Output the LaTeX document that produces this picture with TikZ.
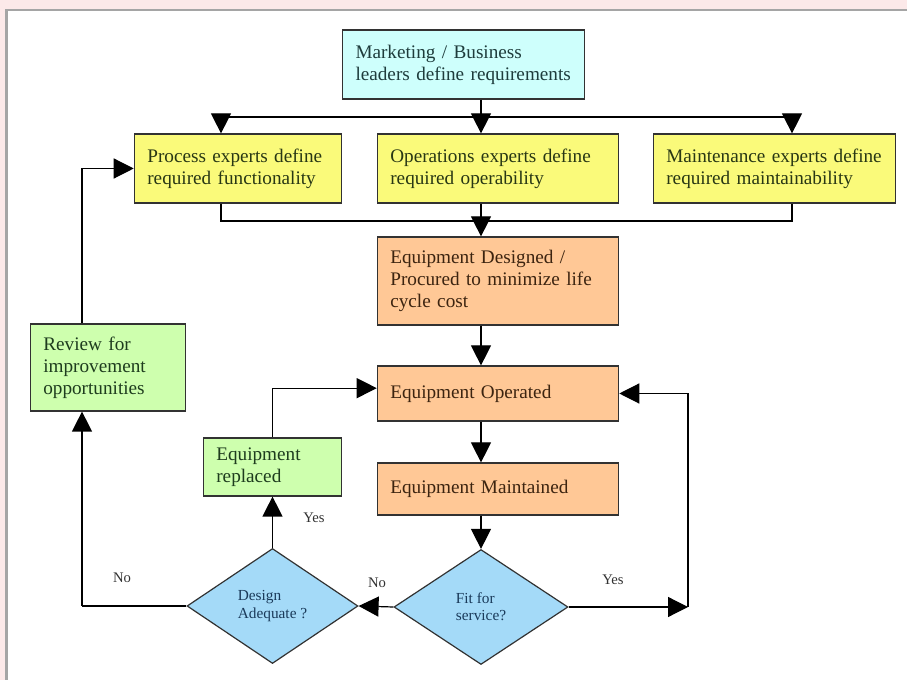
\documentclass[tikz,border=0pt]{standalone}
\usepackage{fontspec}
\setmainfont{Liberation Serif}
\usetikzlibrary{arrows.meta,shapes.geometric}

\definecolor{pinkbg}{RGB}{252,233,233}
\definecolor{framegray}{RGB}{165,165,165}
\definecolor{boxline}{RGB}{50,50,50}
\definecolor{cyanfill}{RGB}{206,255,252}
\definecolor{cyantext}{RGB}{30,60,60}
\definecolor{yellowfill}{RGB}{250,250,122}
\definecolor{yellowtext}{RGB}{40,55,20}
\definecolor{orangefill}{RGB}{255,200,150}
\definecolor{orangetext}{RGB}{60,36,16}
\definecolor{greenfill}{RGB}{206,255,174}
\definecolor{greentext}{RGB}{30,60,30}
\definecolor{diafill}{RGB}{164,218,248}
\definecolor{diatext}{RGB}{26,58,90}
\definecolor{lbltext}{RGB}{50,50,50}

\tikzset{every picture/.style={line width=0.9pt}}
\tikzset{
  box/.style={draw=boxline, align=left, inner xsep=9.75pt, inner ysep=0pt, font=\fontsize{14.4}{16.5}\selectfont},
  decision/.style={diamond, draw=boxline, fill=diafill, text=diatext, align=left, inner sep=0pt, font=\fontsize{11.5}{13}\selectfont},
  arr/.style={-{Triangle[length=15pt,width=15pt]}},
  lbl/.style={text=lbltext, inner sep=0pt, font=\fontsize{11}{13}\selectfont}
}

\begin{document}
\begin{tikzpicture}[x=0.75pt,y=0.75pt,yscale=-1,xscale=1]
\useasboundingbox (0,0) rectangle (907,680);

%Shape: Background
\fill[pinkbg] (0,0) rectangle (907,680);
\fill[white] (8,11) rectangle (907,680);
\draw[framegray, line width=2.2pt] (6.5,680) -- (6.5,10) -- (907,10);

%Shape: Rectangle [requirements]
\node[box, fill=cyanfill, text=cyantext, text width=162pt, minimum height=51.75pt] (market) at (463.5,64.5) {Marketing / Business\\leaders define requirements};
%Shape: Rectangle [experts]
\node[box, fill=yellowfill, text=yellowtext, text width=136pt, minimum height=51.75pt] (process) at (238,168.5) {Process experts define\\required functionality};
\node[box, fill=yellowfill, text=yellowtext, text width=161.5pt, minimum height=51.75pt] (operations) at (498,168.5) {Operations experts define\\required operability};
\node[box, fill=yellowfill, text=yellowtext, text width=162.25pt, minimum height=51.75pt] (maintenance) at (774.5,168.5) {Maintenance experts define\\required maintainability};
%Shape: Rectangle [life cycle]
\node[box, fill=orangefill, text=orangetext, text width=161.5pt, minimum height=66pt] (designed) at (498,281) {Equipment Designed /\\Procured to minimize life\\cycle cost};
\node[box, fill=orangefill, text=orangetext, text width=161.5pt, minimum height=41.25pt] (operated) at (498,393.5) {Equipment Operated};
\node[box, fill=orangefill, text=orangetext, text width=161.5pt, minimum height=39pt] (maintained) at (498,489) {Equipment Maintained};
%Shape: Rectangle [feedback]
\node[box, fill=greenfill, text=greentext, text width=84.25pt, minimum height=43.5pt] (replaced) at (272.5,467) {Equipment\\replaced};
\node[box, fill=greenfill, text=greentext, text width=97pt, minimum height=65.25pt] (review) at (108,367.5) {Review for\\improvement\\opportunities};
%Shape: Diamond
\node[decision, minimum width=130.5pt, minimum height=86.25pt] (fit) at (481,607) {Fit for\\service?};
\node[decision, minimum width=128.25pt, minimum height=86.25pt] (adequate) at (272.5,606) {Design\\Adequate ?};

%Joints
\coordinate (tapP) at (221,117);
\coordinate (tapO) at (481,117);
\coordinate (tapM) at (792,117);
\coordinate (joinP) at (221,221);
\coordinate (spine) at (481,221);
\coordinate (joinM) at (792,221);
\coordinate (loopR) at (688,607);
\coordinate (loopL) at (82,606);

%Straight Lines [top bus]
\draw (tapP) -- (tapM);
\draw[arr] (tapO |- market.south) -- (tapO |- operations.north);
\draw[arr] (tapP) -- (tapP |- process.north);
\draw[arr] (tapM) -- (tapM |- maintenance.north);
%Straight Lines [merge]
\draw (joinP |- process.south) -- (joinP) -- (joinM) -- (joinM |- maintenance.south);
\draw[arr] (spine |- operations.south) -- (spine |- designed.north);
\draw[arr] (spine |- designed.south) -- (spine |- operated.north);
\draw[arr] (spine |- operated.south) -- (spine |- maintained.north);
\draw[arr] (spine |- maintained.south) -- (fit.north);
%Straight Lines [decisions]
\draw[arr] (fit.west) -- (adequate.east);
\draw[arr] (fit.east) -- (loopR);
\draw[arr] (loopR) |- (operated.east);
\draw[arr] (adequate.north) -- (replaced.south);
\draw[arr] (replaced.north) |- ([yshift=-4pt]operated.west);
\draw (adequate.west) -- (loopL);
\draw[arr] (loopL) -- (loopL |- review.south);
\draw[arr] (loopL |- review.north) |- (process.west);

% Text Node
\node[lbl] (noL) at (122,578) {No};
% Text Node
\node[lbl] (yesU) at (314,518) {Yes};
% Text Node
\node[lbl] (noM) at (377,583) {No};
% Text Node
\node[lbl] (yesR) at (613,580) {Yes};

\end{tikzpicture}
\end{document}
